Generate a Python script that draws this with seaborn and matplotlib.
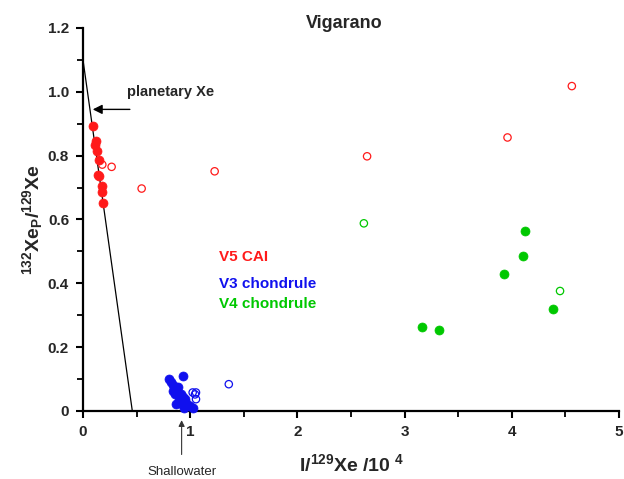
import numpy as np
import matplotlib
matplotlib.use("Agg")
import matplotlib.pyplot as plt
from matplotlib.ticker import MultipleLocator, FuncFormatter
import seaborn as sns

# V5 CAI (red)
v5_filled_x = [0.096, 0.121, 0.112, 0.127, 0.149, 0.143, 0.152, 0.174, 0.180, 0.190]
v5_filled_y = [0.892, 0.845, 0.833, 0.815, 0.785, 0.738, 0.735, 0.704, 0.686, 0.652]
v5_open_x = [0.18, 0.267, 0.547, 1.228, 2.65, 3.96, 4.56]
v5_open_y = [0.772, 0.765, 0.697, 0.751, 0.798, 0.857, 1.018]

# V3 chondrule (blue)
v3_filled_x = [0.93, 0.805, 0.82, 0.843, 0.89, 0.837, 0.858, 0.911, 0.936, 0.951,
               0.867, 0.92, 0.967, 0.942, 1.00, 1.03, 0.898]
v3_filled_y = [0.110, 0.100, 0.092, 0.082, 0.075, 0.063, 0.052, 0.052, 0.044, 0.037,
               0.023, 0.021, 0.023, 0.010, 0.016, 0.010, 0.034]
v3_open_x = [1.023, 1.054, 1.045, 1.054, 1.36]
v3_open_y = [0.058, 0.058, 0.052, 0.037, 0.084]

# V4 chondrule (green)
v4_filled_x = [3.16, 3.32, 3.93, 4.10, 4.12, 4.38]
v4_filled_y = [0.263, 0.255, 0.428, 0.485, 0.565, 0.320]
v4_open_x = [2.62, 4.45]
v4_open_y = [0.588, 0.376]

# mixing line
line_x = [0.0, 0.46]
line_y = [1.10, 0.0]

RED = "#ff1a1a"
BLUE = "#1010ee"
GREEN = "#00c800"

sns.set_style("ticks")
plt.rcParams["font.family"] = ["Liberation Sans", "DejaVu Sans"]
plt.rcParams["mathtext.fontset"] = "custom"
plt.rcParams["mathtext.rm"] = "Liberation Sans"
plt.rcParams["mathtext.bf"] = "Liberation Sans:bold"
plt.rcParams["mathtext.default"] = "bf"

fig = plt.figure(figsize=(6.24, 4.79), dpi=100)
ax = fig.add_axes([83 / 624, 1 - 411 / 479, 536 / 624, 383 / 479])

ax.plot(line_x, line_y, color="black", lw=0.9, zorder=1)

for fx, fy, ox, oy, c in [(v5_filled_x, v5_filled_y, v5_open_x, v5_open_y, RED),
                          (v3_filled_x, v3_filled_y, v3_open_x, v3_open_y, BLUE),
                          (v4_filled_x, v4_filled_y, v4_open_x, v4_open_y, GREEN)]:
    sns.scatterplot(x=fx, y=fy, ax=ax, color=c, s=42, edgecolor=c, linewidth=0.5,
                    zorder=3, clip_on=False)
    sns.scatterplot(x=ox, y=oy, ax=ax, facecolor="none", edgecolor=c, s=28,
                    linewidth=0.9, zorder=3, clip_on=False)

ax.set_xlim(0, 5)
ax.set_ylim(0, 1.2)
ax.xaxis.set_major_locator(MultipleLocator(1))
ax.xaxis.set_minor_locator(MultipleLocator(0.5))
ax.yaxis.set_major_locator(MultipleLocator(0.2))
ax.yaxis.set_minor_locator(MultipleLocator(0.1))
ax.yaxis.set_major_formatter(FuncFormatter(lambda v, p: "0" if abs(v) < 1e-9 else f"{v:.1f}"))

sns.despine(ax=ax)
for s in ["left", "bottom"]:
    ax.spines[s].set_linewidth(1.6)
    ax.spines[s].set_color("black")
ax.tick_params(which="major", length=5, width=1.5, color="black", labelsize=11, pad=5)
ax.tick_params(which="minor", length=4, width=1.3, color="black")
for lab in ax.get_xticklabels() + ax.get_yticklabels():
    lab.set_fontweight("bold")

ax.set_xlabel(r"I/$^{129}$Xe /10$^{\ 4}$", fontsize=14, fontweight="bold", labelpad=10)
ax.set_ylabel(r"$^{132}$Xe$_{P}$/$^{129}$Xe", fontsize=14, fontweight="bold", labelpad=2)

fig.text(344 / 624, 1 - 23 / 479, "Vigarano", ha="center", va="center",
         fontsize=13, fontweight="bold")

ax.text(1.27, 0.481, "V5 CAI", color=RED, fontsize=11, fontweight="bold", va="center")
ax.text(1.27, 0.399, "V3 chondrule", color=BLUE, fontsize=11, fontweight="bold", va="center")
ax.text(1.27, 0.336, "V4 chondrule", color=GREEN, fontsize=11, fontweight="bold", va="center")

ax.annotate("", xy=(0.065, 0.945), xytext=(0.463, 0.945),
            arrowprops=dict(arrowstyle="-|>", color="black", lw=1.0, mutation_scale=14))
ax.text(0.413, 1.0, "planetary Xe", fontsize=10.5, fontweight="bold", va="center", ha="left")

ax.annotate("", xy=(0.92, -0.02), xytext=(0.92, -0.145), annotation_clip=False,
            arrowprops=dict(arrowstyle="-|>", color="#333333", lw=0.8, mutation_scale=9))
ax.text(0.92, -0.19, "Shallowater", fontsize=9.5, ha="center", va="center", clip_on=False)

fig.savefig("out.png", dpi=100)
